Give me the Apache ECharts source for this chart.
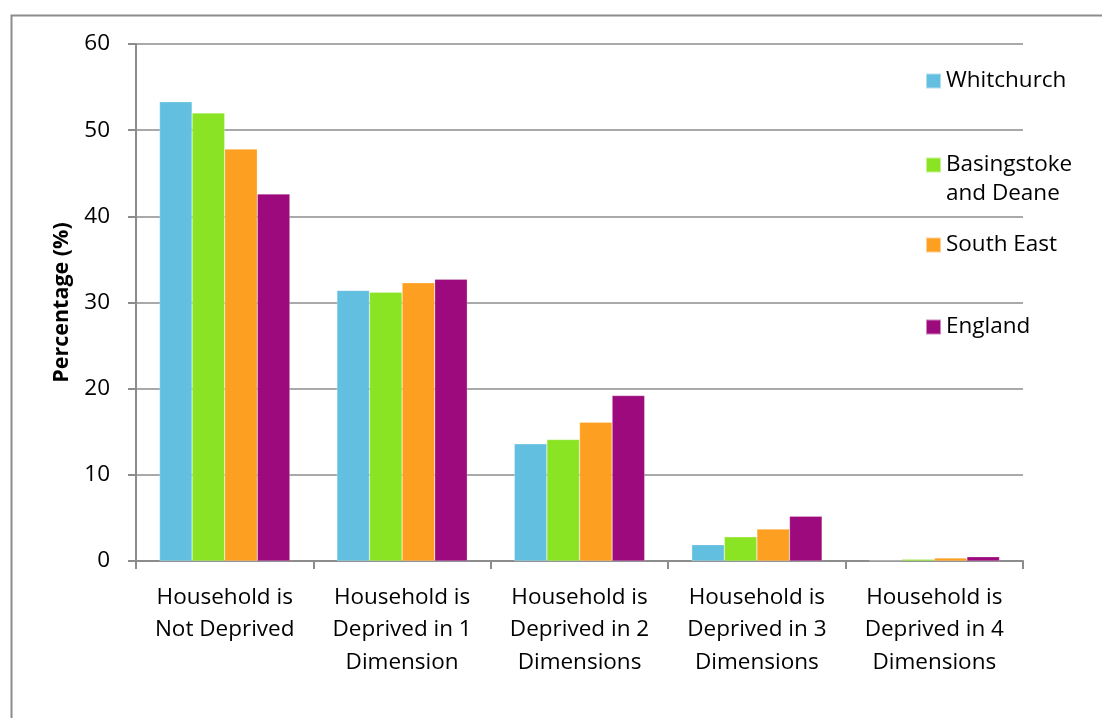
<!DOCTYPE html>
<html>
<head>
<meta charset="utf-8">
<script src="https://cdn.jsdelivr.net/npm/echarts@6/dist/echarts.min.js"></script>
<style>html,body{margin:0;padding:0;background:#fff}#c{width:1102px;height:718px}</style>
</head>
<body>
<div id="c"></div>
<script>
var categories = ['Household is\nNot Deprived', 'Household is\nDeprived in 1\nDimension', 'Household is\nDeprived in 2\nDimensions', 'Household is\nDeprived in 3\nDimensions', 'Household is\nDeprived in 4\nDimensions'];
var seriesNames = ['Whitchurch', 'Basingstoke and Deane', 'South East', 'England'];
var whitchurch = [53.3, 31.4, 13.6, 1.9, 0.05];
var basingstoke = [52.0, 31.2, 14.1, 2.8, 0.2];
var southEast = [47.8, 32.3, 16.1, 3.7, 0.35];
var england = [42.6, 32.7, 19.2, 5.2, 0.5];
var yTicks = [0, 10, 20, 30, 40, 50, 60];

var colors = ['#63bfe0', '#8ae423', '#fd9f20', '#9c0a7d'];
var font = 'Open Sans';
var fs = 22.5;
var allData = [whitchurch, basingstoke, southEast, england];
var legendCenters = [77, 161, 241, 323];

var chart = echarts.init(document.getElementById('c'));
var legends = seriesNames.map(function (n, i) {
  return {
    data: [n],
    orient: 'vertical',
    left: 920,
    top: legendCenters[i] - 7.5 - 5,
    itemWidth: 15,
    itemHeight: 15,
    icon: 'rect',
    selectedMode: false,
    formatter: function (name) { return name === 'Basingstoke and Deane' ? 'Basingstoke' : name; },
    textStyle: { fontFamily: font, fontSize: fs, color: '#000' }
  };
});

chart.setOption({
  animation: false,
  color: colors,
  grid: { left: 136, right: 79, top: 44, bottom: 157, containLabel: false },
  legend: legends,
  graphic: [{
    type: 'rect', left: 9, top: 13,
    shape: { width: 1110, height: 720 },
    style: { fill: 'none', stroke: '#8c8c8c', lineWidth: 2 }, silent: true
  }, {
    type: 'text', left: 946, top: legendCenters[1] + 21,
    style: { text: 'and Deane', fontFamily: font, fontSize: fs, fill: '#000' }, silent: true
  }],
  xAxis: {
    type: 'category',
    data: categories,
    axisLine: { lineStyle: { color: '#8c8c8c', width: 2 } },
    axisTick: { show: true, length: 8, lineStyle: { color: '#8c8c8c', width: 2 } },
    axisLabel: { fontFamily: font, fontSize: fs, color: '#000', lineHeight: 32.5, margin: 20, interval: 0 }
  },
  yAxis: {
    type: 'value', min: yTicks[0], max: yTicks[yTicks.length - 1], interval: 10,
    name: 'Percentage (%)', nameLocation: 'middle', nameGap: 62, nameRotate: 90,
    nameTextStyle: { fontFamily: font, fontSize: 21.5, fontWeight: 'bold', color: '#000' },
    axisLine: { show: true, lineStyle: { color: '#8c8c8c', width: 2 } },
    axisTick: { show: true, length: 8, lineStyle: { color: '#8c8c8c', width: 2 } },
    axisLabel: { fontFamily: font, fontSize: fs, color: '#000', margin: 26 },
    splitLine: { lineStyle: { color: '#8c8c8c', width: 1.5 } }
  },
  series: seriesNames.map(function (n, i) {
    return {
      name: n, type: 'bar', data: allData[i],
      barGap: '0%', barCategoryGap: '26.5%',
      itemStyle: { color: colors[i], borderColor: 'rgba(255,255,255,0.5)', borderWidth: 0.5 }
    };
  })
});
</script>
</body>
</html>
